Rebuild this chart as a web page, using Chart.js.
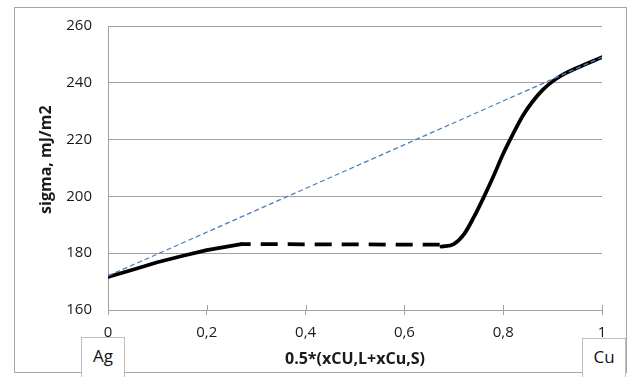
<!DOCTYPE html>
<html>
<head>
<meta charset="utf-8">
<script src="https://cdn.jsdelivr.net/npm/chart.js@4.4.1/dist/chart.umd.min.js"></script>
<style>
  body { margin: 0; background: #fff; overflow: hidden; }
  #wrap { position: relative; width: 628px; height: 377px; }
  #frame { position: absolute; left: 14px; top: 7px; width: 613px; height: 366px; border: 1px solid #a6a6a6; box-sizing: border-box; }
  #wrap canvas { position: absolute; left: 0; top: 0; }
  .tag { position: absolute; width: 44px; height: 50px; background: #fff; border: 1px solid #bfbfbf; box-sizing: border-box;
         font: 17px 'Open Sans', sans-serif; color: #111; text-align: center; line-height: 36px; }
</style>
</head>
<body>
<div id="wrap">
  <div id="frame"></div>
  <canvas id="chart" width="628" height="377"></canvas>
  <div class="tag" style="left:81px; top:337px;">Ag</div>
  <div class="tag" style="left:582px; top:338px;">Cu</div>
</div>
<script>
// data
const agX = [0, 0.05, 0.1, 0.15, 0.2, 0.27];
const agSigma = [171.6, 174.2, 176.8, 179.0, 181.1, 183.2];

const gapX = [0.268, 0.674];
const gapSigma = [183.2, 183.0];

const cuX = [0.675, 0.70, 0.72, 0.74, 0.76, 0.78, 0.80, 0.82, 0.84, 0.86, 0.88, 0.90, 0.92, 0.95, 1];
const cuSigma = [182.3, 183.2, 186.5, 192.5, 199.5, 207, 215, 222, 228.5, 233.5, 237.5, 240.5, 242.8, 245.3, 249];

const idealX = [0, 1];
const idealSigma = [172, 249];

const xTicks = [0, 0.2, 0.4, 0.6, 0.8, 1];
const yTicks = [160, 180, 200, 220, 240, 260];

const pts = (xs, ys) => xs.map((x, i) => ({ x: x, y: ys[i] }));

// x axis ticks in the reference cross the axis line, so draw the upper half too
const crossTicks = {
  id: 'crossTicks',
  afterDraw(chart) {
    const ctx = chart.ctx;
    const xs = chart.scales.x;
    const bottom = chart.chartArea.bottom;
    ctx.save();
    ctx.strokeStyle = '#a0a0a0';
    ctx.lineWidth = 1;
    xTicks.forEach(v => {
      const px = Math.round(xs.getPixelForValue(v)) + 0.5;
      ctx.beginPath();
      ctx.moveTo(px, bottom - 5);
      ctx.lineTo(px, bottom);
      ctx.stroke();
    });
    ctx.restore();
  }
};

new Chart(document.getElementById('chart'), {
  type: 'scatter',
  data: {
    datasets: [
      {
        data: pts(idealX, idealSigma),
        showLine: true,
        borderColor: '#4a7ebb',
        borderWidth: 1.25,
        borderDash: [5, 3],
        pointRadius: 0
      },
      {
        data: pts(agX, agSigma),
        showLine: true,
        borderColor: '#000',
        borderWidth: 3.75,
        borderCapStyle: 'round',
        borderJoinStyle: 'round',
        pointRadius: 0
      },
      {
        data: pts(gapX, gapSigma),
        showLine: true,
        borderColor: '#000',
        borderWidth: 3.75,
        borderDash: [17, 10],
        borderDashOffset: 6.7,
        pointRadius: 0
      },
      {
        data: pts(cuX, cuSigma),
        showLine: true,
        borderColor: '#000',
        borderWidth: 3.75,
        borderCapStyle: 'round',
        cubicInterpolationMode: 'monotone',
        pointRadius: 0
      }
    ]
  },
  options: {
    responsive: false,
    animation: false,
    layout: { padding: { left: 0, top: 26, right: 26, bottom: 0 } },
    plugins: {
      legend: { display: false },
      tooltip: { enabled: false }
    },
    scales: {
      x: {
        type: 'linear',
        min: 0,
        max: 1,
        afterBuildTicks: s => { s.ticks = xTicks.map(v => ({ value: v })); },
        afterFit: s => { s.height = 67; },
        ticks: {
          color: '#1a1a1a',
          font: { family: 'Open Sans', size: 15 },
          padding: 9,
          maxRotation: 0,
          callback: v => String(Math.round(v * 10) / 10).replace('.', ',')
        },
        grid: { drawOnChartArea: false, drawTicks: true, tickLength: 5, color: '#a0a0a0' },
        border: { color: '#a0a0a0' },
        title: {
          display: true,
          text: '0.5*(xCU,L+xCu,S)',
          color: '#1a1a1a',
          font: { family: 'Open Sans', size: 16, weight: 'bold' },
          padding: { top: 0, bottom: 8 }
        }
      },
      y: {
        min: 160,
        max: 260,
        afterBuildTicks: s => { s.ticks = yTicks.map(v => ({ value: v })); },
        afterFit: s => { s.width = 108; },
        ticks: {
          color: '#1a1a1a',
          font: { family: 'Open Sans', size: 15 },
          padding: 16
        },
        grid: { drawTicks: false, color: '#a0a0a0' },
        border: { color: '#a0a0a0' },
        title: {
          display: true,
          // leading spaces nudge the label up a little, as in the original
          text: '    sigma, mJ/m2',
          color: '#1a1a1a',
          font: { family: 'Open Sans', size: 16, weight: 'bold' },
          padding: { top: 37, bottom: 0 }
        }
      }
    }
  },
  plugins: [crossTicks]
});
</script>
</body>
</html>
